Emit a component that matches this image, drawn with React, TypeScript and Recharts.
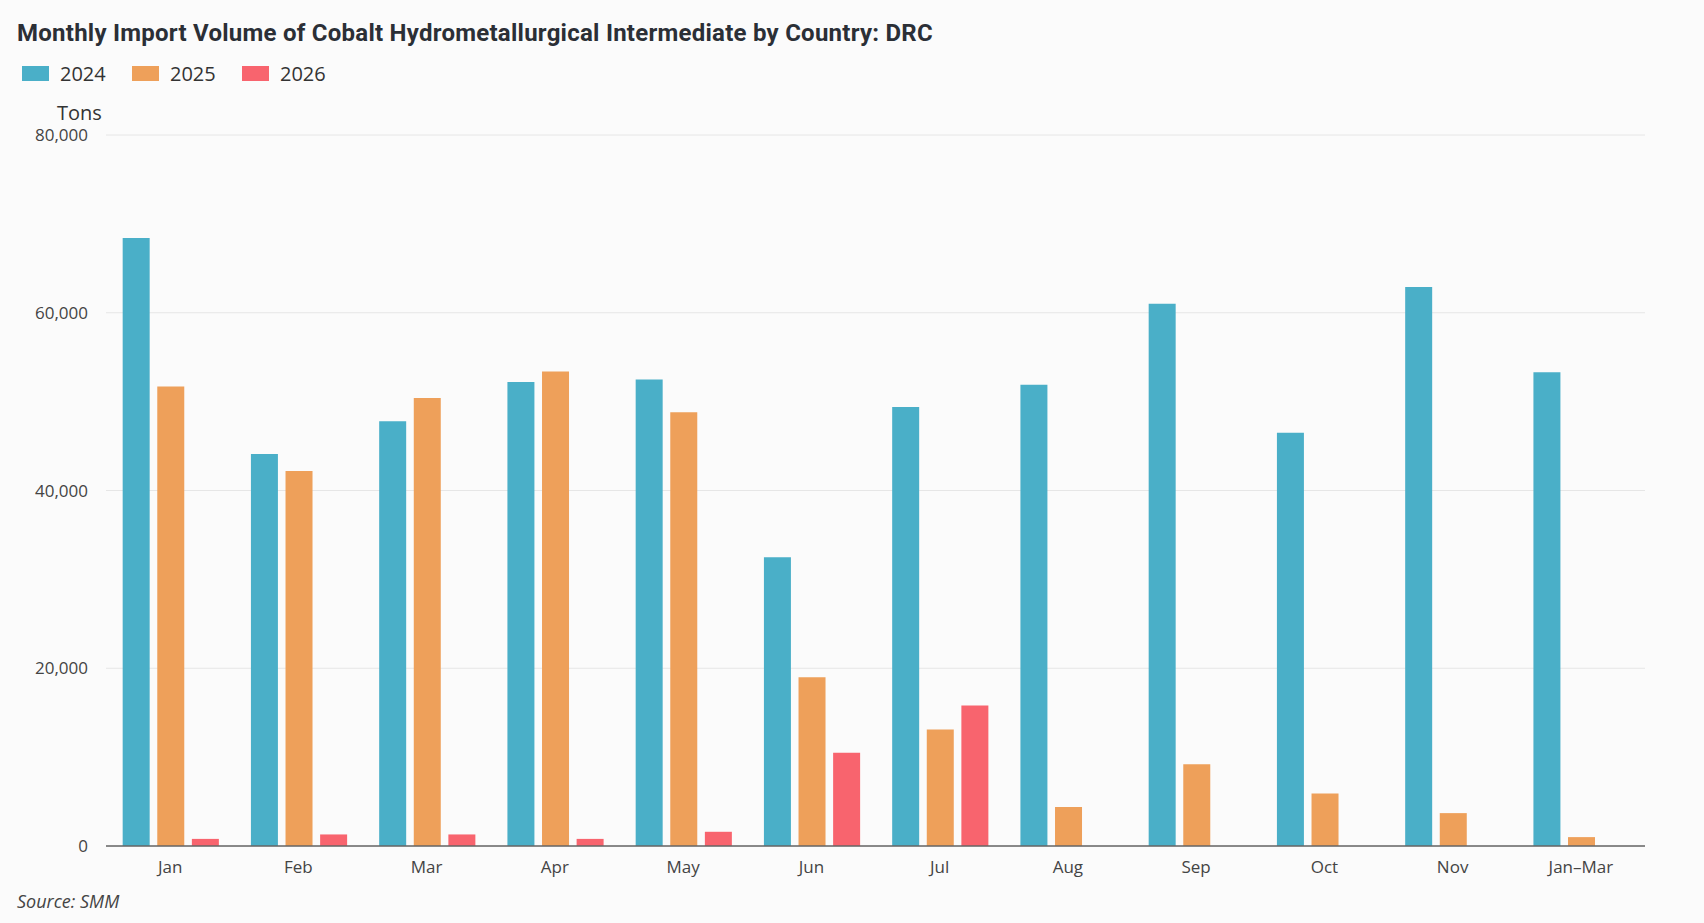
import { Bar, BarChart, CartesianGrid, XAxis, YAxis } from "recharts";

const months = ["Jan", "Feb", "Mar", "Apr", "May", "Jun", "Jul", "Aug", "Sep", "Oct", "Nov", "Jan–Mar"];
const tons2024 = [68400, 44100, 47800, 52200, 52500, 32500, 49400, 51900, 61000, 46500, 62900, 53300];
const tons2025 = [51700, 42200, 50400, 53400, 48800, 19000, 13100, 4400, 9200, 5900, 3700, 1000];
const tons2026 = [800, 1300, 1300, 800, 1600, 10500, 15800, null, null, null, null, null];
const yTicks = [0, 20000, 40000, 60000, 80000];

const series = [
  { key: "y2024", name: "2024", color: "#4aafc8" },
  { key: "y2025", name: "2025", color: "#eea05a" },
  { key: "y2026", name: "2026", color: "#f8646e" },
];

const chartData = months.map((m, i) => ({
  month: m,
  y2024: tons2024[i],
  y2025: tons2025[i],
  y2026: tons2026[i],
}));

const font = "'Open Sans', 'Noto Sans', sans-serif";

function LegendRow() {
  return (
    <div style={{ position: "absolute", left: 22, top: 60, display: "flex" }}>
      {series.map((s) => (
        <div key={s.key} style={{ display: "flex", alignItems: "center", width: 110 }}>
          <span style={{ width: 27, height: 15, background: s.color, display: "inline-block", marginRight: 11 }} />
          <span style={{ fontSize: 20, color: "#333", fontFamily: font }}>{s.name}</span>
        </div>
      ))}
    </div>
  );
}

export default function App() {
  return (
    <div style={{ position: "fixed", left: 0, top: 0, width: 1704, height: 923, background: "#fbfbfb" }}>
      <div
        style={{
          position: "absolute",
          left: 17,
          top: 19,
          fontFamily: "Roboto, sans-serif",
          fontWeight: 700,
          fontSize: 24,
          letterSpacing: 0.25,
          color: "#2b2f36",
          whiteSpace: "nowrap",
        }}
      >
        Monthly Import Volume of Cobalt Hydrometallurgical Intermediate by Country: DRC
      </div>
      <LegendRow />
      <div style={{ position: "absolute", left: 57, top: 99, fontFamily: font, fontSize: 20, color: "#333" }}>Tons</div>
      <BarChart
        width={1704}
        height={923}
        data={chartData}
        margin={{ top: 135, right: 59, bottom: 37, left: 0 }}
        barCategoryGap="13%"
        barGap={7.6}
      >
        <CartesianGrid vertical={false} stroke="#e6e6e6" />
        <XAxis
          dataKey="month"
          height={40}
          tickLine={false}
          axisLine={{ stroke: "#666", strokeWidth: 1.5 }}
          tick={{ fill: "#444", fontSize: 17, fontFamily: font }}
          tickMargin={9}
        />
        <YAxis
          width={106}
          domain={[0, 80000]}
          ticks={yTicks}
          tickLine={false}
          axisLine={false}
          tickSize={0}
          tickMargin={18}
          tickFormatter={(v: number) => v.toLocaleString("en-US")}
          tick={{ fill: "#444", fontSize: 17, fontFamily: font }}
        />
        {series.map((s) => (
          <Bar key={s.key} dataKey={s.key} name={s.name} fill={s.color} isAnimationActive={false} />
        ))}
      </BarChart>
      <div
        style={{
          position: "absolute",
          left: 17,
          top: 889,
          fontFamily: font,
          fontStyle: "italic",
          fontSize: 18,
          color: "#444",
        }}
      >
        Source: SMM
      </div>
    </div>
  );
}
